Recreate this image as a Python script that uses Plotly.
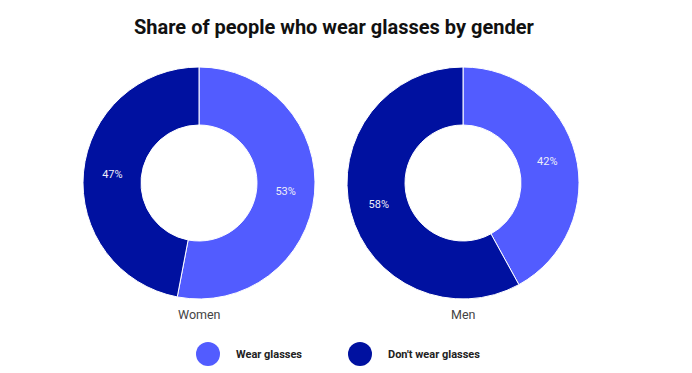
import plotly.graph_objects as go

categories = ["Wear glasses", "Don't wear glasses"]
genders = ["Women", "Men"]
women_values = [53, 47]
men_values = [42, 58]
colors = ["#525CFF", "#0011A0"]

OFF = 8  # page body margin
W, H = 692 - OFF, 373 - OFF
FONT = "Roboto"

def px_x(v):
    return (v - OFF) / W

def px_y(v):
    return 1 - (v - OFF) / H

pies = [(genders[0], women_values, 199), (genders[1], men_values, 463)]
R = 116
CY = 183

fig = go.Figure()
for name, vals, cx in pies:
    fig.add_trace(go.Pie(
        labels=categories,
        values=vals,
        name=name,
        hole=0.5,
        sort=False,
        direction="clockwise",
        rotation=0,
        marker=dict(colors=colors, line=dict(color="white", width=1)),
        texttemplate="%{value}%",
        textposition="inside",
        insidetextorientation="horizontal",
        textfont=dict(family=FONT, size=11, color="#EEEEF8"),
        hoverinfo="label+percent",
        showlegend=False,
        domain=dict(x=[px_x(cx - R), px_x(cx + R)], y=[px_y(CY + R), px_y(CY - R)]),
    ))

annotations = [
    dict(text="<b>Share of people who wear glasses by gender</b>", x=px_x(334.5), y=px_y(27),
         xref="paper", yref="paper", showarrow=False, xanchor="center", yanchor="middle",
         font=dict(family=FONT, size=20, color="#111111")),
]
for name, vals, cx in pies:
    annotations.append(dict(text=name, x=px_x(cx), y=px_y(314), xref="paper", yref="paper",
                            showarrow=False, xanchor="center", yanchor="middle",
                            font=dict(family=FONT, size=12.5, color="#444444")))

legend_items = [(categories[0], colors[0], 208, 234), (categories[1], colors[1], 360, 386)]
shapes = []
LY = 354
r = 12
for label, col, cx, tx in legend_items:
    shapes.append(dict(type="circle", xref="paper", yref="paper",
                       x0=px_x(cx - r), x1=px_x(cx + r), y0=px_y(LY + r), y1=px_y(LY - r),
                       fillcolor=col, line=dict(width=0)))
    annotations.append(dict(text="<b>" + label + "</b>", x=px_x(tx), y=px_y(LY), xref="paper", yref="paper",
                            showarrow=False, xanchor="left", yanchor="middle",
                            font=dict(family=FONT, size=11, color="#222222")))

fig.update_layout(
    width=W, height=H,
    margin=dict(l=0, r=0, t=0, b=0),
    paper_bgcolor="white", plot_bgcolor="white",
    annotations=annotations,
    shapes=shapes,
    showlegend=False,
)

fig.write_html("out.html")
